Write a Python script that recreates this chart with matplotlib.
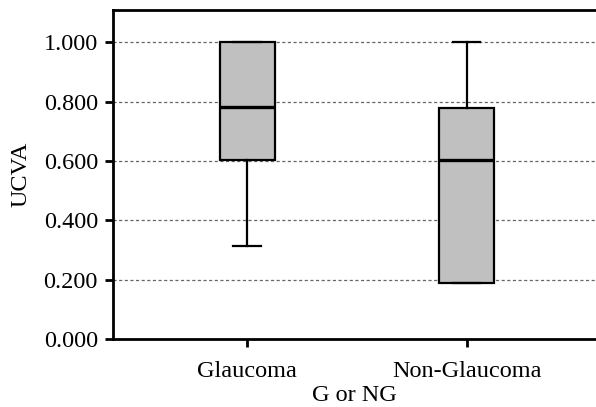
import matplotlib
matplotlib.use('Agg')
import matplotlib.pyplot as plt

# values
groups = ['Glaucoma', 'Non-Glaucoma']
whislo = [0.313, 0.189]
q1 = [0.604, 0.189]
med = [0.781, 0.604]
q3 = [1.000, 0.779]
whishi = [1.000, 1.000]
yticks = [0.0, 0.2, 0.4, 0.6, 0.8, 1.0]

plt.rcParams['font.family'] = ['Liberation Serif', 'DejaVu Serif']
fs = 17.5

fig = plt.figure(figsize=(5.96, 4.07), dpi=100)
ax = fig.add_axes([0.19, 0.167, 0.81, 0.808])

stats = []
for i, g in enumerate(groups):
    stats.append({'label': g, 'whislo': whislo[i], 'q1': q1[i], 'med': med[i],
                  'q3': q3[i], 'whishi': whishi[i], 'fliers': []})

ax.bxp(stats, positions=[1, 2], widths=0.25, patch_artist=True, showfliers=False,
       boxprops=dict(facecolor='#c0c0c0', edgecolor='black', linewidth=1.6),
       medianprops=dict(color='black', linewidth=2.4),
       whiskerprops=dict(color='black', linewidth=1.6),
       capprops=dict(color='black', linewidth=1.6),
       capwidths=0.125, zorder=3)

ax.set_xlim(0.39, 2.59)
ax.set_ylim(0, 1.108)
ax.set_yticks(yticks)
ax.set_yticklabels(['%.3f' % v for v in yticks])
for v in yticks[1:]:
    ax.axhline(v, color='#666666', linestyle=(0, (2.5, 2)), linewidth=0.9, zorder=1)

for s in ['left', 'top', 'bottom']:
    ax.spines[s].set_linewidth(2.0)
ax.spines['right'].set_visible(False)
ax.tick_params(axis='both', direction='out', length=6, width=2.0, labelsize=fs)
ax.tick_params(axis='x', pad=10)
ax.tick_params(axis='y', pad=5)
ax.set_xlabel('G or NG', fontsize=fs, labelpad=2)
ax.set_ylabel('UCVA', fontsize=fs, labelpad=9)

fig.savefig('out.png', dpi=100)
